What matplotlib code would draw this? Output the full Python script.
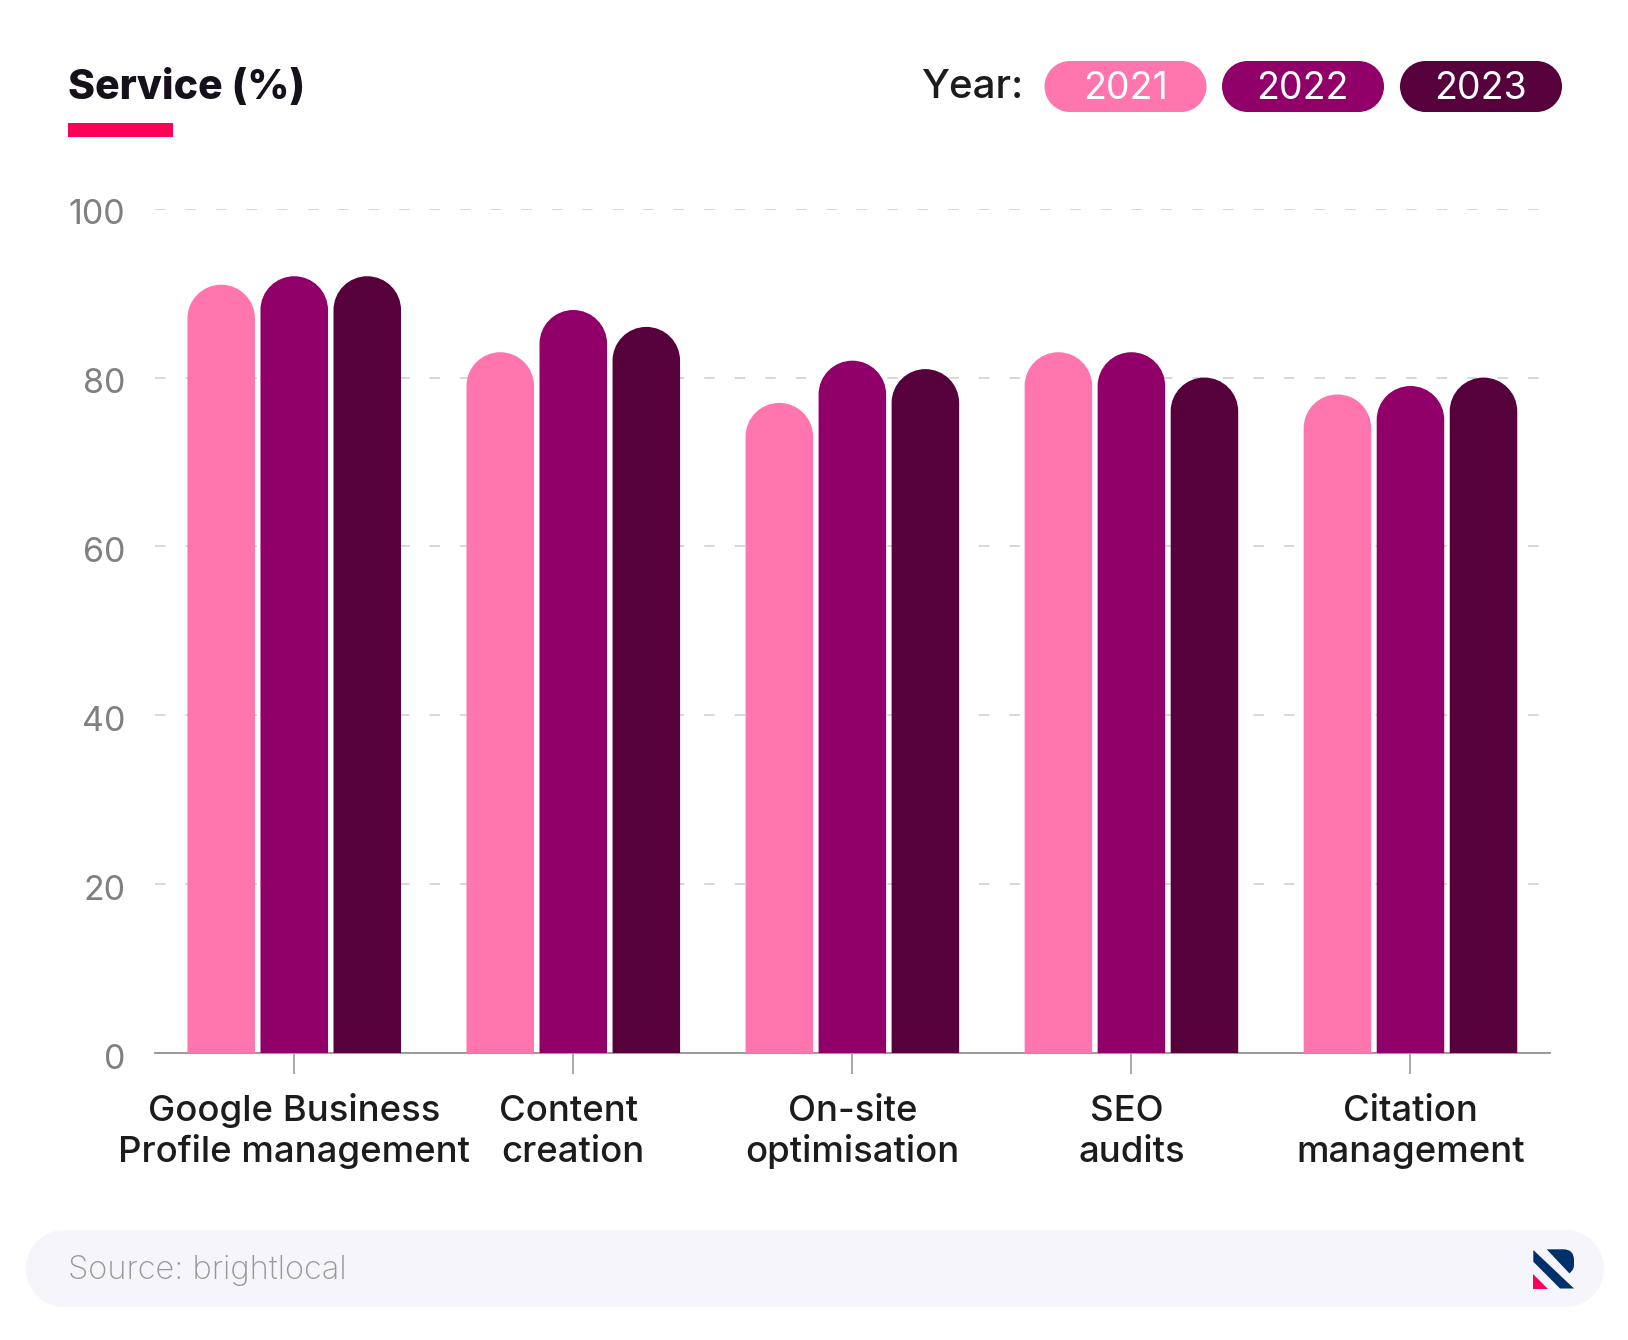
import matplotlib
matplotlib.use('Agg')
import matplotlib.pyplot as plt
from matplotlib.patches import PathPatch, Polygon, Rectangle
from matplotlib.path import Path
from matplotlib.transforms import ScaledTranslation

plt.rcParams['font.family'] = ['Inter', 'DejaVu Sans']

W, H = 1628, 1340

services = ['Google Business\nProfile management', 'Content \ncreation', 'On-site\noptimisation',
            'SEO \naudits', 'Citation\nmanagement']
years = ['2021', '2022', '2023']
y2021 = [91, 83, 77, 83, 78]
y2022 = [92, 88, 82, 83, 79]
y2023 = [92, 86, 81, 80, 80]
y_ticks = [0, 20, 40, 60, 80, 100]
colors = ['#ff75ae', '#910069', '#56003c']

K = 0.5523


def rounded_bar(ax, x, width, height, color, ry):
    # bar with a full round cap, ry is the cap height in data units
    left, right = x - width / 2, x + width / 2
    rx = width / 2
    shoulder = height - ry
    verts = [(left, 0), (left, shoulder),
             (left, shoulder + K * ry), (x - K * rx, height), (x, height),
             (x + K * rx, height), (right, shoulder + K * ry), (right, shoulder),
             (right, 0), (left, 0)]
    codes = [Path.MOVETO, Path.LINETO,
             Path.CURVE4, Path.CURVE4, Path.CURVE4,
             Path.CURVE4, Path.CURVE4, Path.CURVE4,
             Path.LINETO, Path.CLOSEPOLY]
    ax.add_patch(PathPatch(Path(verts, codes), facecolor=color, edgecolor='none', zorder=3))


def pill(ax, x0, y0, w, h, color):
    # fully rounded box, y axis of ax points down
    r = h / 2
    x1, y1 = x0 + w, y0 + h
    c = r * (1 - K)
    verts = [(x0 + r, y0), (x1 - r, y0),
             (x1 - c, y0), (x1, y0 + c), (x1, y0 + r),
             (x1, y1 - c), (x1 - c, y1), (x1 - r, y1),
             (x0 + r, y1),
             (x0 + c, y1), (x0, y1 - c), (x0, y0 + r),
             (x0, y0 + c), (x0 + c, y0), (x0 + r, y0),
             (x0 + r, y0)]
    codes = [Path.MOVETO, Path.LINETO] + [Path.CURVE4] * 6 + [Path.LINETO] + [Path.CURVE4] * 6 + [Path.CLOSEPOLY]
    ax.add_patch(PathPatch(Path(verts, codes), facecolor=color, edgecolor='none'))


fig = plt.figure(figsize=(W / 100, H / 100), dpi=100, facecolor='white')

# background layer in pixel coordinates for the header, pills and footer
bg = fig.add_axes([0, 0, 1, 1], zorder=0)
bg.set_xlim(0, W)
bg.set_ylim(H, 0)
bg.axis('off')

ax = fig.add_axes([154.7 / W, (H - 1053) / H, (1550 - 154.7) / W, (1053 - 208.7) / H], zorder=1)
ax.patch.set_alpha(0)

bar_w = 0.242
pitch = 0.2617
cap = 4.0
for i, vals in enumerate([y2021, y2022, y2023]):
    for j, v in enumerate(vals):
        rounded_bar(ax, j + (i - 1) * pitch, bar_w, v, colors[i], cap)

ax.set_xlim(-0.5, 4.5)
ax.set_ylim(0, 100)
ax.set_yticks(y_ticks)
ax.set_xticks(range(len(services)))
ax.set_xticklabels([])
ax.set_yticklabels([str(t) for t in y_ticks], fontsize=24.5, fontweight='normal', color='#808080')
ax.tick_params(axis='x', length=15, width=1.2, color='#9a9a9a')
ax.tick_params(axis='y', length=0, pad=21)
nudge = ScaledTranslation(0, -3.2 / 100, fig.dpi_scale_trans)
for label in ax.get_yticklabels():
    label.set_transform(label.get_transform() + nudge)

# x labels line by line, multi-line tick labels space unevenly with descenders
for j, name in enumerate(services):
    for line, baseline in zip(name.split('\n'), [68, 109]):
        ax.annotate(line, xy=(j, 0), xycoords=('data', 'axes fraction'),
                    xytext=(0, -baseline * 0.72), textcoords='offset points',
                    ha='center', va='baseline', fontsize=26.3, fontweight='medium', color='#1c1c1c')

for side in ['top', 'left', 'right']:
    ax.spines[side].set_visible(False)
ax.spines['bottom'].set_color('#9a9a9a')
ax.spines['bottom'].set_linewidth(1.4)

ax.set_axisbelow(True)
ax.grid(axis='y', color='#d4d4d4', linewidth=1.3, linestyle=(0, (5.8, 11.1)))

# header
bg.text(68, 88, 'Service (%)', fontsize=29.5, fontweight='heavy', color='#16101a', va='center', ha='left')
bg.add_patch(Rectangle((68, 123), 105, 14, facecolor='#ff0059', edgecolor='none'))
bg.text(1023, 88, 'Year:', fontsize=29, fontweight='medium', color='#1c1c1c', va='center', ha='right')
pill_left = [1044.5, 1222, 1400]
for x0, label, c in zip(pill_left, years, colors):
    pill(bg, x0, 61, 162, 51, c)
    bg.text(x0 + 80.5, 89, label, fontsize=27, color='white', va='center', ha='center')

# footer
pill(bg, 26, 1230, 1578, 77, '#f5f5fb')
bg.text(68, 1271, 'Source: brightlocal', fontsize=23.5, fontweight='light', color='#98989c', va='center', ha='left')

# logo
navy = '#00306b'
bg.add_patch(Polygon([(1533.3, 1274.3), (1533.3, 1288.5), (1548.3, 1288.5)], facecolor='#ff0059', edgecolor='none'))
bg.add_patch(Polygon([(1533.3, 1250), (1533.3, 1261.7), (1560, 1288.5), (1574, 1288.5)], facecolor=navy, edgecolor='none'))
logo_top = Path([(1546.7, 1249.3), (1563.3, 1249.3), (1574, 1249.3), (1574, 1260), (1574, 1265),
                 (1574, 1270), (1569.3, 1273.3), (1546.7, 1249.3)],
                [Path.MOVETO, Path.LINETO, Path.CURVE3, Path.CURVE3, Path.LINETO,
                 Path.CURVE3, Path.CURVE3, Path.CLOSEPOLY])
bg.add_patch(PathPatch(logo_top, facecolor=navy, edgecolor='none'))

fig.savefig('out.png', dpi=100)
